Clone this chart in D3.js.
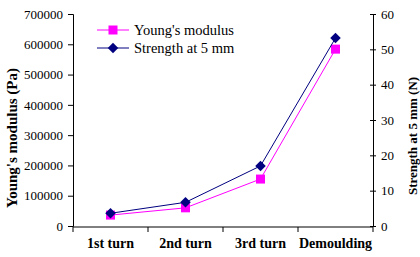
<!DOCTYPE html>
<html>
<head>
<meta charset="utf-8">
<script src="https://cdn.jsdelivr.net/npm/d3@7"></script>
<style>
  body { margin: 0; background: #fff; }
</style>
</head>
<body>
<div id="chart"></div>
<script>
var stages = ["1st turn", "2nd turn", "3rd turn", "Demoulding"];
var modulus = [36000, 60000, 155000, 584000];
var strength = [3.6, 6.7, 17, 53.2];
var leftTicks = [0, 100000, 200000, 300000, 400000, 500000, 600000, 700000];
var rightTicks = [0, 10, 20, 30, 40, 50, 60];

var width = 420, height = 257;
var margin = {left: 73, right: 47, top: 14, bottom: 31};
var serif = "'Liberation Serif', 'Times New Roman', Times, 'DejaVu Serif', serif";

var svg = d3.select("#chart").append("svg")
    .attr("width", width)
    .attr("height", height);

var x = d3.scaleBand().domain(stages)
    .range([margin.left, width - margin.right]).padding(0);
var yL = d3.scaleLinear().domain([0, 700000])
    .range([height - margin.bottom, margin.top]);
var yR = d3.scaleLinear().domain([0, 60])
    .range([height - margin.bottom, margin.top]);

// left axis
var gL = svg.append("g")
    .attr("transform", "translate(" + margin.left + ",0)")
    .call(d3.axisLeft(yL).tickValues(leftTicks).tickFormat(d3.format("d")).tickSize(5).tickPadding(5));
gL.selectAll("text").style("font-size", "13px").attr("fill", "#000");

// right axis (ticks cross the line)
var gR = svg.append("g")
    .attr("transform", "translate(" + (width - margin.right) + ",0)")
    .call(d3.axisRight(yR).tickValues(rightTicks).tickSize(3).tickPadding(5));
gR.selectAll(".tick line").attr("x1", -3);
gR.selectAll("text").style("font-size", "13px").attr("fill", "#000");

// bottom axis with ticks between categories
var gB = svg.append("g")
    .attr("transform", "translate(0," + (height - margin.bottom + 1) + ")");
gB.append("line")
    .attr("x1", margin.left).attr("x2", width - margin.right)
    .attr("stroke", "#000");
var edges = stages.map(function(s) { return x(s); }).concat([x(stages[3]) + x.bandwidth()]);
gB.selectAll(".tk").data(edges).enter().append("line")
    .attr("x1", function(d) { return d; }).attr("x2", function(d) { return d; })
    .attr("y1", 0).attr("y2", 5).attr("stroke", "#000");
gB.selectAll(".lbl").data(stages).enter().append("text")
    .attr("x", function(d) { return x(d) + x.bandwidth() / 2; })
    .attr("y", 21)
    .attr("text-anchor", "middle")
    .style("font-size", "14px").style("font-weight", "bold")
    .text(function(d) { return d; });

// axis titles
svg.append("text")
    .attr("transform", "translate(17,138) rotate(-90)")
    .attr("text-anchor", "middle")
    .style("font-size", "15px").style("font-weight", "bold")
    .text("Young's modulus (Pa)");
svg.append("text")
    .attr("transform", "translate(417,136) rotate(-90)")
    .attr("text-anchor", "middle")
    .style("font-size", "13px").style("font-weight", "bold")
    .text("Strength at 5 mm (N)");

var cx = function(d, i) { return x(stages[i]) + x.bandwidth() / 2; };

// Young's modulus line
svg.append("path")
    .datum(modulus)
    .attr("fill", "none").attr("stroke", "#ff00ff").attr("stroke-width", 1)
    .attr("d", d3.line().x(cx).y(function(d) { return yL(d); }));
svg.selectAll(".sq").data(modulus).enter().append("rect")
    .attr("x", function(d, i) { return cx(d, i) - 4.5; })
    .attr("y", function(d) { return yL(d) - 4.5; })
    .attr("width", 9).attr("height", 9)
    .attr("fill", "#ff00ff");

// Strength line
svg.append("path")
    .datum(strength)
    .attr("fill", "none").attr("stroke", "#000080").attr("stroke-width", 1)
    .attr("d", d3.line().x(cx).y(function(d) { return yR(d); }));
var diamond = d3.symbol().type(d3.symbolDiamond2).size(70);
svg.selectAll(".dm").data(strength).enter().append("path")
    .attr("d", diamond)
    .attr("transform", function(d, i) { return "translate(" + cx(d, i) + "," + yR(d) + ")"; })
    .attr("fill", "#000080");

// legend
var legend = [
  {name: "Young's modulus", color: "#ff00ff", shape: "sq"},
  {name: "Strength at 5 mm", color: "#000080", shape: "dm"}
];
var lg = svg.selectAll(".lg").data(legend).enter().append("g")
    .attr("transform", function(d, i) { return "translate(97," + (30 + i * 18) + ")"; });
lg.append("line").attr("x1", 0).attr("x2", 32)
    .attr("stroke", function(d) { return d.color; });
lg.each(function(d) {
  var g = d3.select(this);
  if (d.shape == "sq") {
    g.append("rect").attr("x", 11.5).attr("y", -4.5).attr("width", 9).attr("height", 9).attr("fill", d.color);
  } else {
    g.append("path").attr("d", diamond).attr("transform", "translate(16,0)").attr("fill", d.color);
  }
});
lg.append("text").attr("x", 37).attr("y", 5)
    .style("font-size", "14.5px")
    .text(function(d) { return d.name; });

// serif everywhere, like the original
svg.selectAll("text").style("font-family", serif);
</script>
</body>
</html>
